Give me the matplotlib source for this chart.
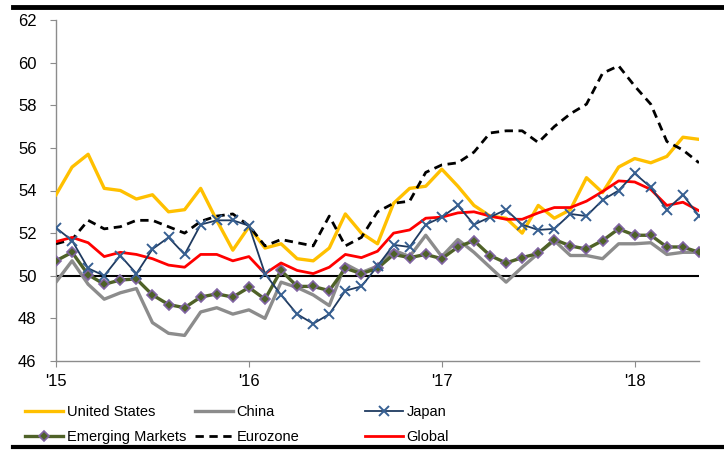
import matplotlib
matplotlib.use("Agg")
import matplotlib.pyplot as plt
from matplotlib.lines import Line2D

months = list(range(41))  # Jan 2015 .. May 2018
year_ticks = [0, 12, 24, 36]
year_labels = ["'15", "'16", "'17", "'18"]

united_states = [53.8, 55.1, 55.7, 54.1, 54.0, 53.6, 53.8, 53.0, 53.1, 54.1, 52.6, 51.2,
                 52.3, 51.3, 51.5, 50.8, 50.7, 51.3, 52.9, 52.0, 51.5, 53.4, 54.1, 54.2,
                 55.0, 54.2, 53.3, 52.8, 52.7, 52.0, 53.3, 52.7, 53.1, 54.6, 53.9, 55.1,
                 55.5, 55.3, 55.6, 56.5, 56.4]
china = [49.7, 50.7, 49.6, 48.9, 49.2, 49.4, 47.8, 47.3, 47.2, 48.3, 48.5, 48.2,
         48.4, 48.0, 49.7, 49.45, 49.1, 48.6, 50.55, 50.15, 50.45, 51.2, 50.9, 51.9,
         50.9, 51.7, 51.1, 50.4, 49.7, 50.4, 51.05, 51.65, 50.95, 50.95, 50.8, 51.5,
         51.5, 51.55, 51.0, 51.1, 51.1]
japan = [52.25, 51.65, 50.35, 50.0, 50.95, 50.1, 51.25, 51.8, 51.0, 52.4, 52.6, 52.6,
         52.35, 50.1, 49.1, 48.2, 47.75, 48.2, 49.3, 49.5, 50.45, 51.45, 51.35, 52.4,
         52.75, 53.3, 52.4, 52.75, 53.1, 52.4, 52.15, 52.2, 52.9, 52.8, 53.55, 54.0,
         54.8, 54.15, 53.1, 53.8, 52.8]
emerging = [50.7, 51.1, 50.05, 49.6, 49.8, 49.85, 49.1, 48.65, 48.5, 49.0, 49.15, 49.0,
            49.45, 48.9, 50.25, 49.5, 49.5, 49.3, 50.35, 50.1, 50.35, 51.0, 50.85, 51.0,
            50.8, 51.35, 51.65, 50.95, 50.6, 50.85, 51.05, 51.7, 51.4, 51.25, 51.65, 52.2,
            51.9, 51.9, 51.35, 51.35, 51.1]
eurozone = [51.5, 51.7, 52.6, 52.2, 52.3, 52.6, 52.6, 52.3, 52.0, 52.55, 52.8, 52.9,
            52.35, 51.4, 51.7, 51.55, 51.4, 52.8, 51.4, 51.8, 53.0, 53.4, 53.5, 54.85,
            55.2, 55.3, 55.8, 56.7, 56.8, 56.8, 56.25, 57.0, 57.6, 58.05, 59.5, 59.85,
            58.9, 58.05, 56.3, 55.9, 55.3]
global_ = [51.6, 51.8, 51.55, 50.9, 51.1, 51.0, 50.8, 50.5, 50.4, 51.0, 51.0, 50.7,
           50.9, 50.1, 50.6, 50.25, 50.1, 50.4, 51.0, 50.85, 51.15, 52.0, 52.15, 52.7,
           52.75, 52.95, 53.0, 52.8, 52.65, 52.65, 52.95, 53.2, 53.2, 53.5, 53.95, 54.45,
           54.4, 54.05, 53.3, 53.45, 53.05]

plt.rcParams['font.family'] = ['Liberation Sans', 'DejaVu Sans']

W, H = 724, 454
fig = plt.figure(figsize=(W / 100, H / 100), dpi=100)
ax = fig.add_axes([56 / W, 1 - 361 / H, (699 - 56) / W, (361 - 20) / H])

ax.axhline(50, color='black', lw=1.5, zorder=1)

ax.plot(months, united_states, color='#FFC000', lw=2.4, label='United States', zorder=3)
ax.plot(months, china, color='#8C8C8C', lw=2.4, label='China', zorder=2)
ax.plot(months, japan, color='#1F3A60', lw=1.3, marker='x', ms=7.5, mew=1.4,
        mec='#376092', label='Japan', zorder=5)
ax.plot(months, emerging, color='#4F6228', lw=2.4, marker='D', ms=5.5, mfc='#4F6228',
        mec='#8064A2', mew=1.2, label='Emerging Markets', zorder=4)
ax.plot(months, eurozone, color='black', lw=2.0, ls=(0, (3, 2)), label='Eurozone', zorder=3)
ax.plot(months, global_, color='#FF0000', lw=2.0, label='Global', zorder=4)

ax.set_xlim(0, 40)
ax.set_ylim(46, 62)
ax.set_yticks(range(46, 63, 2))
ax.set_xticks(year_ticks)
ax.set_xticklabels(year_labels)
for s in ['top', 'right']:
    ax.spines[s].set_visible(False)
for s in ['left', 'bottom']:
    ax.spines[s].set_color('#8C8C8C')
    ax.spines[s].set_linewidth(1.0)
ax.tick_params(axis='y', direction='out', length=4, color='#8C8C8C', labelsize=12, pad=10)
ax.tick_params(axis='x', direction='out', length=4, color='#8C8C8C', labelsize=12, pad=5)

h, l = ax.get_legend_handles_labels()
columns = [([0, 3], 25), ([1, 4], 195), ([2, 5], 365)]
for idx, x0 in columns:
    leg = fig.legend([h[i] for i in idx], [l[i] for i in idx], ncol=1, frameon=False,
                     loc='upper left', bbox_to_anchor=(x0 / W, 1 - 405 / H), fontsize=10.5,
                     handlelength=2.6, handletextpad=0.25, labelspacing=0.75,
                     borderaxespad=0, borderpad=0)

fig.add_artist(Line2D([13 / W, 1], [1 - 7 / H, 1 - 7 / H], color='black', lw=3.5))
fig.add_artist(Line2D([13 / W, 1], [1 - 447 / H, 1 - 447 / H], color='black', lw=3))

fig.savefig('out.png', dpi=100)
